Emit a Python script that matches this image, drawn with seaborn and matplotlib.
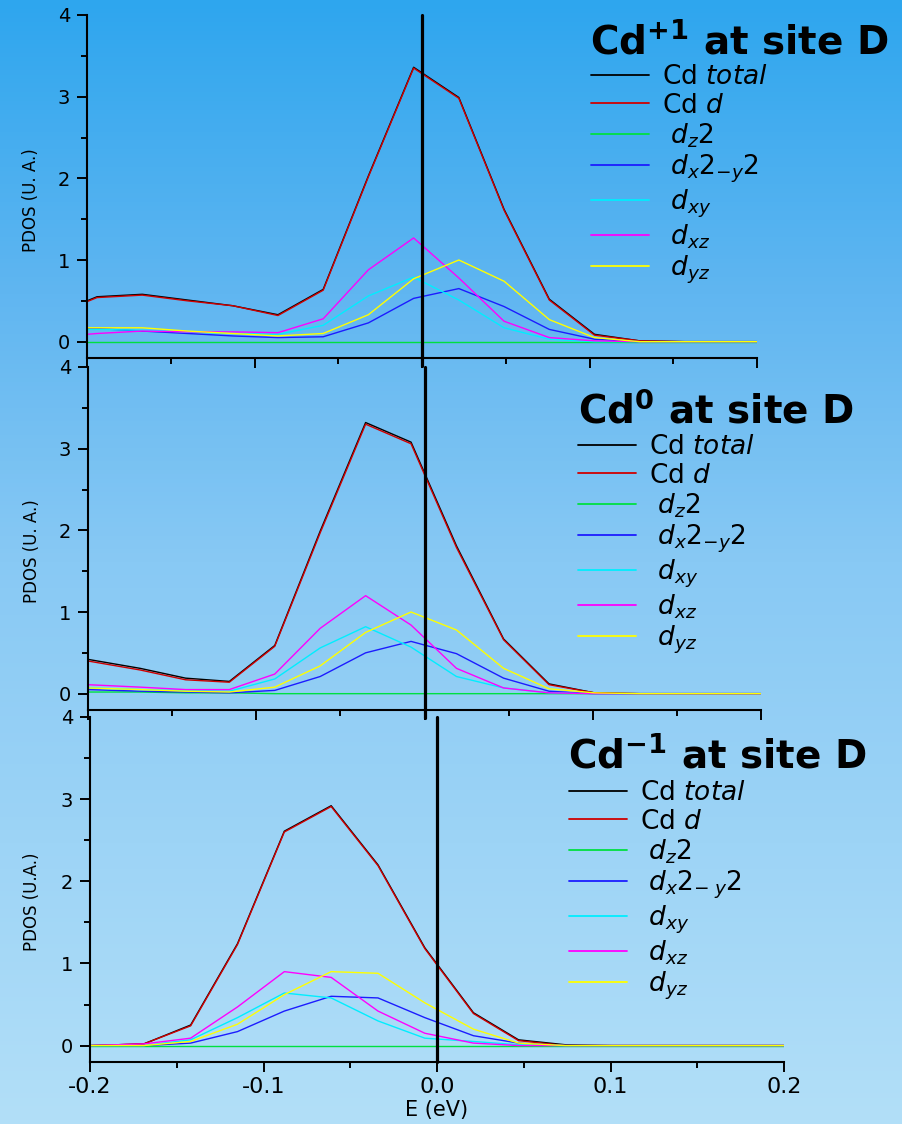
import numpy as np
import pandas as pd
import matplotlib
matplotlib.use("Agg")
import matplotlib.pyplot as plt
from matplotlib.lines import Line2D
from matplotlib.colors import LinearSegmentedColormap
import seaborn as sns

sns.set_style("ticks")
plt.rcParams["font.family"] = ["DejaVu Sans"]
plt.rcParams["mathtext.fontset"] = "dejavusans"
for key in ["text.color", "axes.labelcolor", "xtick.color", "ytick.color", "axes.edgecolor"]:
    plt.rcParams[key] = "black"

# ---------------- data ----------------
orbitals = ["total", "d", "dz2", "dx2y2", "dxy", "dxz", "dyz"]

# Cd+1 at site D
E_p1 = [-0.200, -0.194, -0.167, -0.140, -0.113, -0.086, -0.059, -0.032, -0.005,
        0.022, 0.049, 0.076, 0.103, 0.130, 0.157, 0.184, 0.200]
total_p1 = [0.50, 0.55, 0.58, 0.51, 0.44, 0.33, 0.64, 2.03, 3.36, 2.99, 1.62, 0.52, 0.09, 0.01, 0.00, 0.00, 0.00]
d_p1 = [0.49, 0.54, 0.57, 0.50, 0.44, 0.32, 0.63, 2.02, 3.35, 2.98, 1.61, 0.51, 0.08, 0.01, 0.00, 0.00, 0.00]
dz2_p1 = [0.00, 0.00, 0.00, 0.00, 0.00, 0.00, 0.00, 0.00, 0.00, 0.00, 0.00, 0.00, 0.00, 0.00, 0.00, 0.00, 0.00]
dx2y2_p1 = [0.16, 0.16, 0.13, 0.10, 0.07, 0.05, 0.06, 0.23, 0.53, 0.65, 0.43, 0.15, 0.03, 0.00, 0.00, 0.00, 0.00]
dxy_p1 = [0.15, 0.15, 0.14, 0.12, 0.10, 0.09, 0.20, 0.56, 0.79, 0.51, 0.17, 0.03, 0.00, 0.00, 0.00, 0.00, 0.00]
dxz_p1 = [0.09, 0.10, 0.13, 0.12, 0.12, 0.11, 0.28, 0.88, 1.27, 0.78, 0.25, 0.05, 0.01, 0.00, 0.00, 0.00, 0.00]
dyz_p1 = [0.17, 0.17, 0.17, 0.13, 0.10, 0.07, 0.10, 0.33, 0.77, 1.00, 0.74, 0.27, 0.05, 0.00, 0.00, 0.00, 0.00]

# Cd0 at site D
E_0 = [-0.200, -0.169, -0.142, -0.116, -0.089, -0.062, -0.035, -0.008,
       0.019, 0.047, 0.074, 0.101, 0.128, 0.155, 0.182, 0.200]
total_0 = [0.42, 0.31, 0.19, 0.15, 0.59, 1.99, 3.32, 3.08, 1.81, 0.67, 0.12, 0.01, 0.00, 0.00, 0.00, 0.00]
d_0 = [0.40, 0.29, 0.17, 0.14, 0.58, 1.97, 3.30, 3.06, 1.79, 0.66, 0.11, 0.01, 0.00, 0.00, 0.00, 0.00]
dz2_0 = [0.02, 0.02, 0.01, 0.01, 0.00, 0.00, 0.00, 0.00, 0.00, 0.00, 0.00, 0.00, 0.00, 0.00, 0.00, 0.00]
dx2y2_0 = [0.05, 0.03, 0.02, 0.01, 0.04, 0.21, 0.50, 0.64, 0.49, 0.19, 0.03, 0.00, 0.00, 0.00, 0.00, 0.00]
dxy_0 = [0.07, 0.05, 0.04, 0.03, 0.18, 0.56, 0.82, 0.57, 0.21, 0.07, 0.01, 0.00, 0.00, 0.00, 0.00, 0.00]
dxz_0 = [0.11, 0.08, 0.05, 0.05, 0.24, 0.80, 1.20, 0.84, 0.31, 0.07, 0.01, 0.00, 0.00, 0.00, 0.00, 0.00]
dyz_0 = [0.07, 0.05, 0.03, 0.02, 0.08, 0.34, 0.75, 1.00, 0.78, 0.31, 0.06, 0.01, 0.00, 0.00, 0.00, 0.00]

# Cd-1 at site D
E_m1 = [-0.200, -0.169, -0.142, -0.115, -0.088, -0.061, -0.034, -0.007,
        0.021, 0.047, 0.074, 0.101, 0.128, 0.155, 0.182, 0.200]
total_m1 = [0.00, 0.02, 0.25, 1.24, 2.61, 2.92, 2.20, 1.19, 0.40, 0.07, 0.01, 0.00, 0.00, 0.00, 0.00, 0.00]
d_m1 = [0.00, 0.02, 0.24, 1.23, 2.60, 2.91, 2.19, 1.18, 0.39, 0.06, 0.00, 0.00, 0.00, 0.00, 0.00, 0.00]
dz2_m1 = [0.00, 0.00, 0.00, 0.00, 0.00, 0.00, 0.00, 0.00, 0.00, 0.00, 0.00, 0.00, 0.00, 0.00, 0.00, 0.00]
dx2y2_m1 = [0.00, 0.00, 0.03, 0.17, 0.42, 0.60, 0.58, 0.34, 0.12, 0.03, 0.00, 0.00, 0.00, 0.00, 0.00, 0.00]
dxy_m1 = [0.00, 0.00, 0.07, 0.34, 0.64, 0.58, 0.30, 0.09, 0.05, 0.01, 0.00, 0.00, 0.00, 0.00, 0.00, 0.00]
dxz_m1 = [0.00, 0.02, 0.09, 0.47, 0.90, 0.83, 0.42, 0.15, 0.03, 0.00, 0.00, 0.00, 0.00, 0.00, 0.00, 0.00]
dyz_m1 = [0.00, 0.00, 0.05, 0.26, 0.62, 0.90, 0.88, 0.52, 0.20, 0.03, 0.00, 0.00, 0.00, 0.00, 0.00, 0.00]

titles = [r"Cd$^{\mathbf{+1}}$ at site D", r"Cd$^{\mathbf{0}}$ at site D", r"Cd$^{\mathbf{-1}}$ at site D"]
legend_labels = [
    [r"Cd $\mathit{total}$", r"Cd $\mathit{d}$", r" $\mathit{d}_{\mathit{z}}\mathit{2}$",
     r" $\mathit{d}_{\mathit{x}}\mathit{2}_{\mathit{-y}}\mathit{2}$", r" $\mathit{d}_{\mathit{xy}}$",
     r" $\mathit{d}_{\mathit{xz}}$", r" $\mathit{d}_{\mathit{yz}}$"],
    [r"Cd $\mathit{total}$", r"Cd $\mathit{d}$", r" $\mathit{d}_{\mathit{z}}\mathit{2}$",
     r" $\mathit{d}_{\mathit{x}}\mathit{2}_{\mathit{-y}}\mathit{2}$", r" $\mathit{d}_{\mathit{xy}}$",
     r" $\mathit{d}_{\mathit{xz}}$", r" $\mathit{d}_{\mathit{yz}}$"],
    [r"Cd $\mathit{total}$", r"Cd $\mathit{d}$", r" $\mathit{d}_{\mathit{z}}\mathit{2}$",
     r" $\mathit{d}_{\mathit{x}}\mathit{2}_{\mathit{-\;y}}\mathit{2}$", r" $\mathit{d}_{\mathit{xy}}$",
     r" $\mathit{d}_{\mathit{xz}}$", r" $\mathit{d}_{\mathit{yz}}$"],
]
ylabels = ["PDOS (U. A.)", "PDOS (U. A.)", "PDOS (U.A.)"]
xticks_major = [-0.2, -0.1, 0.0, 0.1, 0.2]
xticks_minor = [-0.15, -0.05, 0.05, 0.15]
yticks_major = [0, 1, 2, 3, 4]
yticks_minor = [0.5, 1.5, 2.5, 3.5]

colors = {"total": "#000000", "d": "#d00000", "dz2": "#00e040", "dx2y2": "#1c1cff",
          "dxy": "#00eeff", "dxz": "#ff00ff", "dyz": "#ffff00"}

panels = [
    (E_p1, [total_p1, d_p1, dz2_p1, dx2y2_p1, dxy_p1, dxz_p1, dyz_p1]),
    (E_0, [total_0, d_0, dz2_0, dx2y2_0, dxy_0, dxz_0, dyz_0]),
    (E_m1, [total_m1, d_m1, dz2_m1, dx2y2_m1, dxy_m1, dxz_m1, dyz_m1]),
]

# ---------------- figure ----------------
W, H = 902, 1124
fig = plt.figure(figsize=(W / 100, H / 100), dpi=100)

# sky-blue vertical gradient behind everything
bg = fig.add_axes([0, 0, 1, 1], zorder=-10)
grad_cmap = LinearSegmentedColormap.from_list(
    "sky", [(0.0, "#2ea6ee"), (0.26, "#60b6f1"), (0.5, "#88c9f4"), (1.0, "#b2dff8")])
bg.imshow(np.linspace(0, 1, 256)[:, None], aspect="auto", cmap=grad_cmap,
          extent=[0, 1, 0, 1], origin="upper")
bg.set_axis_off()

def fx(px):
    return px / W

def fy(py):
    return 1 - py / H

# axes rectangles in pixel units: left, right, top(y=4), bottom(y=-0.2)
rects = [(87, 757, 15, 358), (88, 761, 367, 710), (90, 784, 717, 1062)]
title_pos = [(590, 53), (578, 423), (568, 768)]
legend_pos = [(591, 64), (578, 434), (569, 780)]
ylabel_y = [200, 551, 902]
vline_ext = [0.022, 0.022, 0.0]

for i, ((l, r, t, b), (E, series)) in enumerate(zip(rects, panels)):
    ax = fig.add_axes([fx(l), fy(b), fx(r) - fx(l), fy(t) - fy(b)])
    ax.set_facecolor("none")
    df = pd.DataFrame({
        "E": np.tile(E, len(orbitals)),
        "PDOS": np.concatenate(series),
        "orbital": np.repeat(orbitals, len(E)),
    })
    sns.lineplot(data=df, x="E", y="PDOS", hue="orbital", hue_order=orbitals,
                 palette=colors, estimator=None, sort=False, linewidth=1.0,
                 legend=False, ax=ax)
    ax.axvline(0, ymin=-vline_ext[i], ymax=1, color="black", lw=2.3, clip_on=False, zorder=5)

    ax.set_xlim(-0.2, 0.2)
    ax.set_ylim(-0.2, 4.0)
    ax.set_xticks(xticks_major)
    ax.set_xticks(xticks_minor, minor=True)
    ax.set_yticks(yticks_major)
    ax.set_yticks(yticks_minor, minor=True)
    ax.tick_params(axis="both", which="major", direction="out", length=7, width=1.4, pad=5)
    ax.tick_params(axis="y", which="major", labelsize=14)
    ax.tick_params(axis="x", which="major", labelsize=16, pad=4)
    ax.tick_params(axis="both", which="minor", direction="out", length=4.5, width=1.4)
    ax.xaxis.set_major_formatter(matplotlib.ticker.FuncFormatter(
        lambda v, p: "0.0" if abs(v) < 1e-9 else f"{v:.1f}"))
    for s in ["top", "right"]:
        ax.spines[s].set_visible(False)
    for s in ["left", "bottom"]:
        ax.spines[s].set_linewidth(1.5)
    if i < 2:
        ax.tick_params(axis="x", labelbottom=False)
        ax.set_xlabel("")
    else:
        ax.set_xlabel("E (eV)", fontsize=15, labelpad=2)
    ax.set_ylabel(ylabels[i], fontsize=12)
    ax.yaxis.set_label_coords(-0.07, 1 - (ylabel_y[i] - t) / (b - t))

    # panel title and legend
    tx, ty = title_pos[i]
    fig.text(fx(tx), fy(ty), titles[i], fontsize=28, fontweight="bold", va="baseline", ha="left")
    handles = [Line2D([], [], color=colors[o], lw=1.3) for o in orbitals]
    lx, ly = legend_pos[i]
    ax.legend(handles, legend_labels[i], loc="upper left", bbox_to_anchor=(fx(lx), fy(ly)),
              bbox_transform=fig.transFigure, frameon=False, fontsize=19,
              handlelength=2.2, handletextpad=0.5, labelspacing=0.1, borderpad=0,
              borderaxespad=0)

fig.savefig("out.png", dpi=100)
